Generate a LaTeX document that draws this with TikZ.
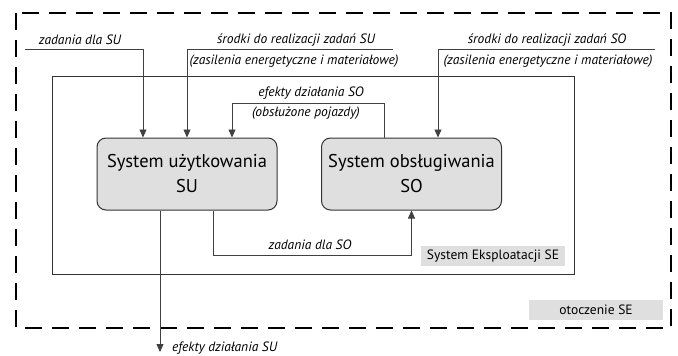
\documentclass[tikz,border=0pt]{standalone}
\usepackage{fontspec}
\setmainfont{PT Sans}
\usetikzlibrary{arrows.meta}
\begin{document}
\begin{tikzpicture}[x=1pt,y=-1pt,
  sysbox/.style={draw=black!80, fill=gray!25, rounded corners=9pt, line width=1pt,
    minimum width=180pt, minimum height=72pt, align=center, inner sep=0pt,
    font=\fontsize{18.5}{25}\selectfont},
  flow/.style={draw=black!75, line width=0.8pt},
  arr/.style={-{Triangle[length=8pt,width=7pt]}},
  lab/.style={font=\itshape\fontsize{13.5}{15}\selectfont, inner sep=0pt},
  graylab/.style={fill=gray!25, font=\fontsize{13.5}{15}\selectfont, inner sep=0pt},
  outer/.style={draw=black, line width=2pt, dash pattern=on 17pt off 10pt}]
\useasboundingbox (0,0) rectangle (678,356);
% environment
\draw[outer] (16,13) rectangle (671,328);
% system SE
\node[draw=black!80, line width=1pt, minimum width=522pt, minimum height=198pt,
  anchor=north west, inner sep=0pt] (se) at (52,76) {};
% subsystems
\node[sysbox] (su) at (187,174) {System użytkowania\\SU};
\node[sysbox] (so) at (411.5,174) {System obsługiwania\\SO};
% gray labels
\node[graylab, minimum width=144pt, minimum height=20pt] (selab) at (493,256) {System Eksploatacji SE};
\node[graylab, minimum width=134pt, minimum height=20pt] (otlab) at (596,310) {otoczenie SE};
% zadania dla SU
\coordinate (zsu) at (25,49);
\draw[flow,arr] (zsu) -| ([xshift=-44pt]su.north);
\node[lab] (lzsu) at (80,40) {zadania dla SU};
% srodki SU
\coordinate (ssuA) at (187,49);
\coordinate (ssuB) at (393,49);
\draw[flow] (ssuA) -- (ssuB);
\draw[flow,arr] (ssuA) -- (su.north);
\node[lab] (lssu1) at (296,40) {środki do realizacji zadań SU};
\node[lab] (lssu2) at (294,61) {(zasilenia energetyczne i materiałowe)};
% srodki SO
\coordinate (ssoA) at (438,49);
\coordinate (ssoB) at (655,49);
\draw[flow] (ssoA) -- (ssoB);
\draw[flow,arr] (ssoA) -- (ssoA |- so.north);
\node[lab] (lsso1) at (547,40) {środki do realizacji zadań SO};
\node[lab] (lsso2) at (548,61) {(zasilenia energetyczne i materiałowe)};
% efekty SO
\coordinate (eso) at (232,103);
\draw[flow,arr] ([xshift=-27.5pt]so.north) |- (eso) -- (eso |- su.north);
\node[lab] (leso1) at (311,93) {efekty działania SO};
\node[lab] (leso2) at (306,113) {(obsłużone pojazdy)};
% zadania dla SO
\coordinate (zso) at (213,255);
\draw[flow,arr] (zso |- su.south) -- (zso) -| (so.south);
\node[lab] (lzso) at (310,245) {zadania dla SO};
% efekty SU
\coordinate (esu) at (160,352);
\draw[flow,arr] (esu |- su.south) -- (esu);
\node[lab, anchor=west] (lesu) at (172,348) {efekty działania SU};
\end{tikzpicture}
\end{document}
